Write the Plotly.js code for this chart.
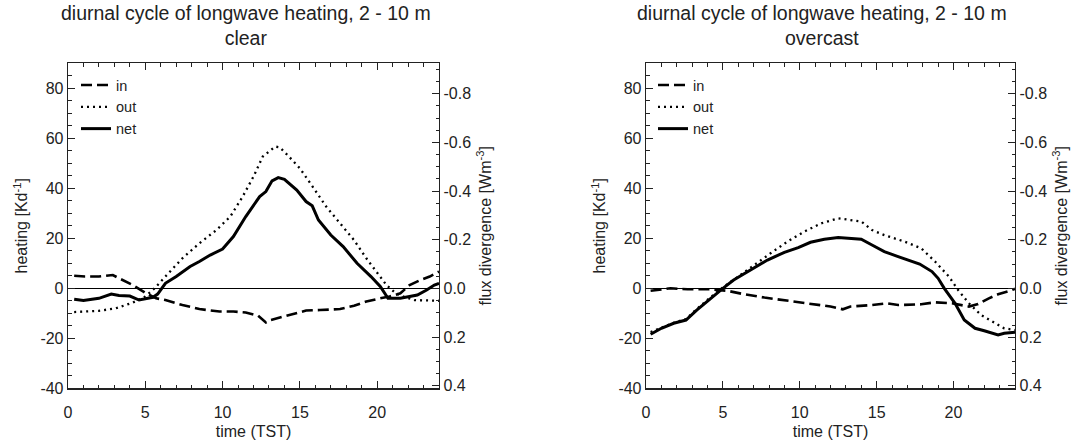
<!DOCTYPE html>
<html>
<head>
<meta charset="utf-8">
<script src="https://cdn.plot.ly/plotly-3.0.1.min.js"></script>
<style>html,body{margin:0;padding:0;background:#fff;}#chart{width:1075px;height:448px;}</style>
</head>
<body>
<div id="chart"></div>
<script>
// ---- data ----
const panelTitles = ['diurnal cycle of longwave heating, 2 - 10 m<br>clear', 'diurnal cycle of longwave heating, 2 - 10 m<br>overcast'];
const seriesNames = ['in', 'out', 'net'];

// clear sky
const clearInHours = [0.4, 1.1, 2, 2.9, 3.3, 4.2, 5.05, 5.7, 6.3, 7.4, 8.5, 9.8, 10.7, 11.5, 12.3, 12.8, 13.1, 14, 15, 15.4, 16.3, 17.6, 18.5, 19.3, 20.2, 20.8, 21.5, 22.1, 22.8, 23.4, 24];
const clearIn = [5.0, 4.7, 4.7, 5.3, 4.0, 1.3, -2.0, -4.0, -4.7, -6.7, -8.3, -9.3, -9.3, -9.7, -11.0, -13.7, -12.7, -11.3, -9.7, -8.9, -8.7, -8.3, -7.0, -5.3, -4.0, -3.3, -2.0, 1.3, 3.3, 4.7, 6.7];
const clearOutHours = [0.4, 2, 3.1, 4.2, 5, 5.6, 6.3, 7.4, 8.5, 9.6, 10.5, 11.3, 12, 12.6, 13.4, 13.7, 14.2, 15, 15.9, 16.7, 17.6, 18.5, 19.3, 20, 20.6, 21.2, 21.7, 22.4, 23.7, 24];
const clearOut = [-9.5, -9.0, -8.0, -5.7, -3.3, 0.0, 4.7, 12.0, 18.0, 23.3, 28.7, 36.7, 44.7, 52.7, 56.7, 56.4, 53.3, 48.0, 40.0, 32.7, 26.0, 19.3, 12.0, 6.0, 1.3, -2.0, -3.3, -4.7, -4.9, -5.0];
const clearNetHours = [0.4, 1, 2, 2.8, 3.3, 4, 4.6, 5.5, 5.8, 6.3, 7, 7.9, 8.5, 9.2, 10, 10.7, 11.5, 12.4, 12.8, 13.2, 13.6, 14, 14.8, 15.4, 15.8, 16.2, 17, 17.8, 18.7, 19.6, 20.2, 20.7, 21.5, 22.6, 23.2, 23.7, 24];
const clearNet = [-4.4, -4.9, -4.0, -2.3, -2.9, -3.1, -4.7, -3.6, -2.3, 2.0, 4.7, 8.7, 10.7, 13.3, 15.7, 20.7, 28.7, 36.7, 38.7, 43.0, 44.3, 43.6, 39.3, 34.7, 33.0, 27.3, 21.3, 16.7, 10.0, 4.7, 0.7, -4.0, -4.0, -2.7, -0.7, 1.3, 2.0];

// overcast
const ovInHours = [0.3, 1.6, 2.7, 4.2, 5.3, 6.4, 7.7, 9, 10.7, 12, 12.8, 13.3, 14.7, 15.7, 16.4, 17.9, 18.8, 19.9, 21, 21.6, 22.3, 22.9, 23.8, 24];
const ovIn = [-1.0, 0.0, -0.4, -0.4, -1.0, -2.4, -3.7, -4.7, -6.0, -7.3, -8.4, -7.3, -6.7, -6.0, -6.7, -6.4, -5.6, -6.0, -7.3, -6.3, -4.0, -2.4, -0.7, -0.2];
const ovOutHours = [0.3, 1, 1.8, 2.6, 3.3, 4.2, 5, 6, 7, 8.1, 9.2, 10.3, 11.4, 12.5, 13.3, 14, 14.7, 15.5, 16.8, 17.9, 18.8, 19.7, 20.3, 21, 21.8, 22.7, 23.3, 24];
const ovOut = [-17.5, -15.8, -13.8, -12.3, -8.3, -3.6, 0.4, 4.7, 9.3, 14.0, 18.7, 22.7, 26.0, 28.0, 27.3, 26.7, 23.3, 21.3, 18.7, 16.0, 10.7, 4.7, -0.7, -6.0, -10.7, -14.0, -16.0, -16.7];
const ovNetHours = [0.3, 1, 1.8, 2.6, 3.3, 4.2, 5, 5.7, 6.8, 7.9, 9, 9.9, 10.7, 11.6, 12.5, 13.1, 14, 14.7, 15.5, 16.4, 17.3, 17.8, 18.6, 19, 19.4, 20.1, 20.7, 21.4, 22, 22.9, 23.3, 24];
const ovNet = [-18.4, -16.0, -14.0, -12.7, -8.7, -4.0, 0.0, 3.3, 7.3, 11.3, 14.4, 16.3, 18.4, 19.6, 20.3, 19.9, 19.6, 17.3, 14.7, 12.7, 10.7, 9.7, 6.7, 4.0, 0.0, -6.0, -12.7, -16.0, -17.0, -18.7, -18.0, -17.6];

// ticks
const hourTickVals = [0, 5, 10, 15, 20];
const hourTickText = ['0', '5', '10', '15', '20'];
const heatTickVals = [-40, -20, 0, 20, 40, 60, 80];
const heatTickText = ['-40', '-20', '0', '20', '40', '60', '80'];
const fluxTickVals = [-0.8, -0.6, -0.4, -0.2, 0, 0.2, 0.4];
const fluxTickText = ['-0.8', '-0.6', '-0.4', '-0.2', '0.0', '0.2', '0.4'];

// ---- styling ----
const INK = '#222';
const FONT = '"Liberation Sans", Arial, Helvetica, sans-serif';
const styles = {
  'in':  {color: 'black', width: 2.6, dash: '11px,5px'},
  'out': {color: 'black', width: 2.3, dash: '2px,4px'},
  'net': {color: 'black', width: 3, dash: 'solid'}
};

function trace(name, xs, ys, xa, ya, lg) {
  return {type: 'scatter', mode: 'lines', name: name, x: xs, y: ys, xaxis: xa, yaxis: ya,
          legend: lg, line: styles[name], hoverinfo: 'skip'};
}
// empty carrier traces so that the secondary (flux) axes are drawn
function carrier(xa, ya) {
  return {type: 'scatter', mode: 'lines', x: [], y: [], xaxis: xa, yaxis: ya, showlegend: false, hoverinfo: 'skip'};
}

const data = [
  trace(seriesNames[0], clearInHours, clearIn, 'x', 'y', 'legend'),
  trace(seriesNames[1], clearOutHours, clearOut, 'x', 'y', 'legend'),
  trace(seriesNames[2], clearNetHours, clearNet, 'x', 'y', 'legend'),
  trace(seriesNames[0], ovInHours, ovIn, 'x2', 'y2', 'legend2'),
  trace(seriesNames[1], ovOutHours, ovOut, 'x2', 'y2', 'legend2'),
  trace(seriesNames[2], ovNetHours, ovNet, 'x2', 'y2', 'legend2'),
  carrier('x', 'y3'),
  carrier('x2', 'y4')
];

const W = 1075, H = 448;
const yDom = [(H - 388.3) / H, (H - 63.3) / H];

function xAxis(domain, anchor) {
  return {
    domain: domain, anchor: anchor, range: [0, 24],
    tickmode: 'array', tickvals: hourTickVals, ticktext: hourTickText,
    ticks: 'inside', ticklen: 7, tickwidth: 1, tickcolor: INK,
    showline: true, linecolor: INK, linewidth: 1.3, mirror: 'ticks',
    showgrid: false, zeroline: false, ticklabelstandoff: 9,
    tickfont: {size: 16, color: INK, family: FONT},
    minor: {tickmode: 'linear', tick0: 0, dtick: 1, ticks: 'inside', ticklen: 3.5, tickwidth: 1, tickcolor: INK, showgrid: false},
    title: {text: 'time (TST)', standoff: 6, font: {size: 16, color: INK, family: FONT}}
  };
}
function heatAxis(anchor) {
  return {
    domain: yDom, anchor: anchor, range: [-40, 90],
    tickmode: 'array', tickvals: heatTickVals, ticktext: heatTickText,
    ticks: 'inside', ticklen: 7, tickwidth: 1, tickcolor: INK,
    showline: true, linecolor: INK, linewidth: 1.3, mirror: false,
    showgrid: false, zeroline: true, zerolinecolor: 'black', zerolinewidth: 1,
    tickfont: {size: 16, color: INK, family: FONT},
    minor: {tickmode: 'linear', tick0: 0, dtick: 5, ticks: 'inside', ticklen: 3.5, tickwidth: 1, tickcolor: INK, showgrid: false},
    title: {text: 'heating [Kd<sup>-1</sup>]', standoff: 8, font: {size: 16, color: INK, family: FONT}}
  };
}
function fluxAxis(anchor, over) {
  return {
    domain: yDom, anchor: anchor, overlaying: over, side: 'right', range: [0.41, -0.925],
    tickmode: 'array', tickvals: fluxTickVals, ticktext: fluxTickText,
    ticks: 'inside', ticklen: 7, tickwidth: 1, tickcolor: INK,
    showline: true, linecolor: INK, linewidth: 1.3,
    showgrid: false, zeroline: false,
    tickfont: {size: 16, color: INK, family: FONT},
    minor: {tickmode: 'linear', tick0: 0, dtick: 0.05, ticks: 'inside', ticklen: 3.5, tickwidth: 1, tickcolor: INK, showgrid: false},
    title: {text: 'flux divergence [Wm<sup>-3</sup>]', standoff: 9, font: {size: 16, color: INK, family: FONT}}
  };
}
function legendAt(xpx) {
  return {x: xpx / W, xanchor: 'left', y: (H - 69) / H, yanchor: 'top', bgcolor: 'rgba(0,0,0,0)',
          borderwidth: 0, font: {size: 14.5, color: INK, family: FONT}, traceorder: 'normal', itemclick: false};
}

const layout = {
  width: W, height: H, margin: {l: 0, r: 0, t: 0, b: 0},
  paper_bgcolor: 'white', plot_bgcolor: 'white',
  font: {family: FONT, size: 16, color: INK},
  showlegend: true,
  xaxis: xAxis([68 / W, 439 / W], 'y'),
  yaxis: heatAxis('x'),
  yaxis3: fluxAxis('x', 'y'),
  xaxis2: xAxis([646 / W, 1015 / W], 'y2'),
  yaxis2: heatAxis('x2'),
  yaxis4: fluxAxis('x2', 'y2'),
  legend: legendAt(76),
  legend2: legendAt(653),
  annotations: [
    {text: panelTitles[0], xref: 'paper', yref: 'paper', x: 246 / W, y: 1, xanchor: 'center', yanchor: 'top',
     showarrow: false, font: {size: 19.5, color: INK, family: FONT}},
    {text: panelTitles[1], xref: 'paper', yref: 'paper', x: 822 / W, y: 1, xanchor: 'center', yanchor: 'top',
     showarrow: false, font: {size: 19.5, color: INK, family: FONT}}
  ]
};

Plotly.newPlot('chart', data, layout, {displayModeBar: false, staticPlot: true});
</script>
</body>
</html>
